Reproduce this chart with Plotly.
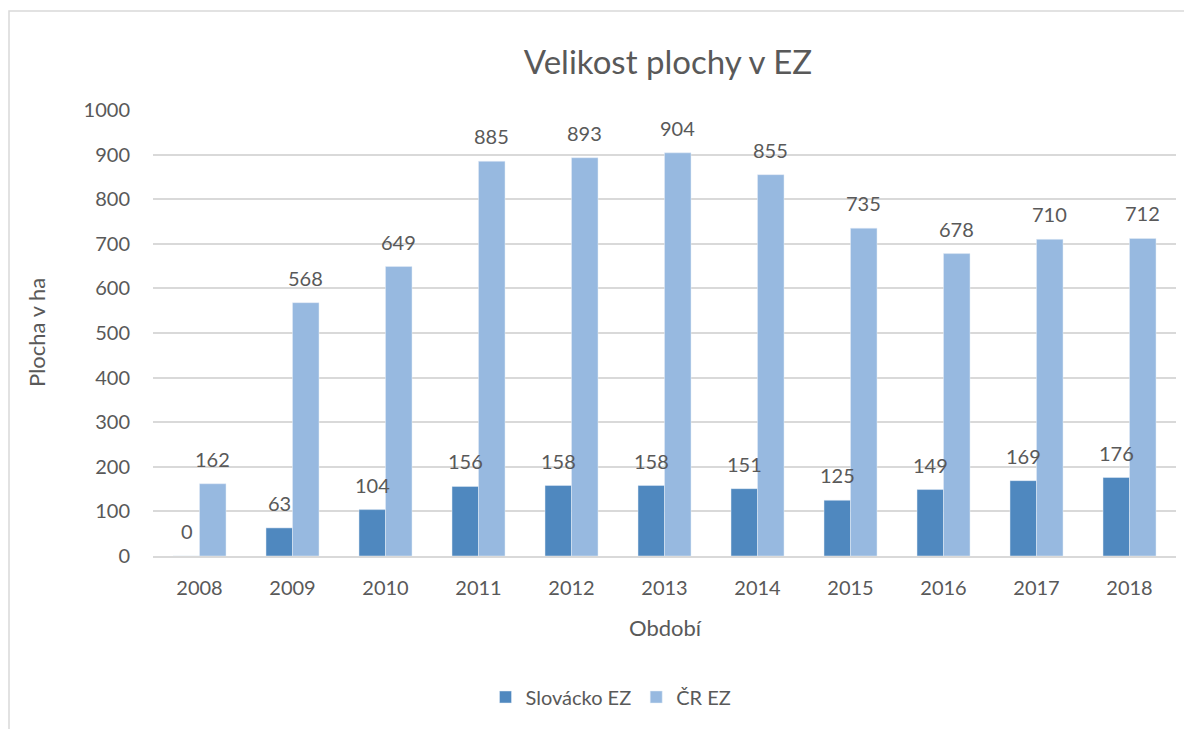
import plotly.graph_objects as go

years = ["2008", "2009", "2010", "2011", "2012", "2013", "2014", "2015", "2016", "2017", "2018"]
slovacko = [0, 63, 104, 156, 158, 158, 151, 125, 149, 169, 176]
cr = [162, 568, 649, 885, 893, 904, 855, 735, 678, 710, 712]

dark = "#4F88BF"
light = "#97B9E0"
txt = "#595959"
font = "Lato, 'Open Sans', sans-serif"

# page body has an 8px margin; work in reference pixels and shift
OFF = 8
W, H = 1192 - OFF, 729 - OFF
l, r, t, b = 153 - OFF, 16, 110 - OFF, 173
pw, ph = W - l - r, H - t - b
def px(x):
    return (x - OFF - l) / pw
def py(y):
    return (H - b - (y - OFF)) / ph

fig = go.Figure()
fig.add_trace(go.Bar(x=years, y=slovacko, name="Slovácko EZ", marker_color=dark))
fig.add_trace(go.Bar(x=years, y=cr, name="ČR EZ", marker_color=light))

ann = []
for i, v in enumerate(slovacko):
    ann.append(dict(x=i, y=v, xref="x", yref="y", text=str(v), showarrow=False,
                    xshift=-13, yshift=25, font=dict(size=20, color=txt, family=font)))
for i, v in enumerate(cr):
    ann.append(dict(x=i, y=v, xref="x", yref="y", text=str(v), showarrow=False,
                    xshift=13, yshift=25, font=dict(size=20, color=txt, family=font)))
ann.append(dict(x=px(665), y=py(627), xref="paper", yref="paper", text="Období", showarrow=False,
                xanchor="center", yanchor="middle",
                font=dict(size=22, color=txt, family=font)))
ann.append(dict(x=px(36), y=py(333), xref="paper", yref="paper", text="Plocha v ha", showarrow=False,
                xanchor="center", yanchor="middle",
                textangle=-90, font=dict(size=22, color=txt, family=font)))

fig.update_layout(
    width=W, height=H,
    margin=dict(l=l, r=r, t=t, b=b),
    paper_bgcolor="white", plot_bgcolor="white",
    barmode="group", bargap=0.43, bargroupgap=0,
    font=dict(family=font, color=txt),
    title=dict(text="Velikost plochy v EZ", x=px(668), xref="paper", xanchor="center",
               y=1 - (62 - OFF) / H, yref="container", yanchor="middle",
               font=dict(size=33, color=txt, family=font)),
    legend=dict(orientation="h", x=px(611), xanchor="center", y=py(697), yanchor="middle",
                font=dict(size=20, color=txt, family=font), itemwidth=30,
                traceorder="normal"),
    annotations=ann,
    shapes=[dict(type="rect", xref="paper", yref="paper", x0=px(9), x1=px(1188),
                 y0=py(745), y1=py(11), line=dict(color="#D9D9D9", width=1.5),
                 fillcolor="rgba(0,0,0,0)", layer="below")],
)
fig.update_xaxes(type="category", range=[-0.5, len(years) - 0.5], showline=True,
                 linecolor="#D9D9D9", linewidth=1.5, ticks="",
                 tickfont=dict(size=20, color=txt, family=font), ticklabelstandoff=13)
fig.update_yaxes(range=[0, 1000], dtick=100, showgrid=True, gridcolor="#D9D9D9", gridwidth=1.5,
                 zeroline=False, showline=False, ticks="",
                 tickfont=dict(size=20, color=txt, family=font), ticklabelstandoff=22)

fig.write_html("out.html")
